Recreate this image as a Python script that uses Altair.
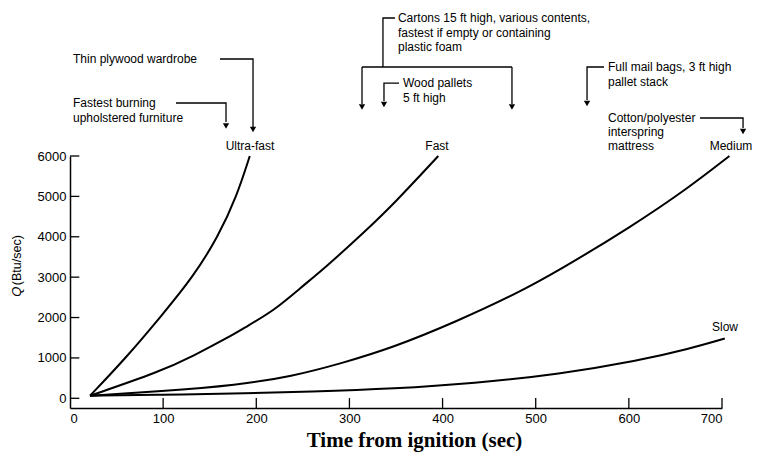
import altair as alt
import pandas as pd

# ---------------- data ----------------
ultra_t = [21.5, 60, 96.6, 132, 159, 179, 193]
ultra_q = [64, 1000, 2000, 3000, 4000, 5000, 6000]

fast_t = [21.5, 96.6, 132.4, 171.8, 187.9, 220, 246.9, 273.8, 316.7, 348.9, 395.4]
fast_q = [64, 660, 1050, 1530, 1755, 2190, 2725, 3230, 4130, 4845, 6000]

medium_t = [21.5, 97, 180, 238, 292, 346, 415, 480, 523, 603, 664, 708]
medium_q = [64, 170, 330, 540, 870, 1250, 1900, 2600, 3140, 4255, 5210, 6000]

slow_t = [21.5, 100, 172, 260, 349, 433, 526, 610, 664, 703]
slow_q = [64, 90, 115, 165, 240, 370, 600, 930, 1220, 1480]

x_ticks = [0, 100, 200, 300, 400, 500, 600, 700]
y_ticks = [0, 1000, 2000, 3000, 4000, 5000, 6000]

curve_labels = ["Ultra-fast", "Fast", "Medium", "Slow"]
curve_label_t = [193.3, 394.0, 709.7, 703.2]
curve_label_q = [6247, 6247, 6247, 1765]

note_texts = ["Thin plywood wardrobe", "Fastest burning", "upholstered furniture",
              "Cartons 15 ft high, various contents,", "fastest if empty or containing",
              "plastic foam", "Wood pallets", "5 ft high", "Full mail bags, 3 ft high",
              "pallet stack", "Cotton/polyester", "interspring", "mattress"]
note_t = [3.2, 3.2, 3.2, 352.1, 352.1, 352.1, 357.5, 357.5, 577.6, 577.6, 577.6, 577.6, 577.6]
note_q = [8402, 7312, 6941, 9417, 9045, 8699, 7807, 7436, 8204, 7832, 6941, 6594, 6247]

conn_id = ["A"] * 3 + ["B"] * 3 + ["C"] * 3 + ["C2"] * 2 + ["C3"] * 2 + ["C4"] * 2 + ["D"] * 3 + ["E"] * 3 + ["F"] * 3
conn_t = [161.0, 196.5, 196.5, 113.8, 167.5, 167.5, 348.9, 336.0, 336.0, 313.5, 474.5,
          313.5, 313.5, 474.5, 474.5, 353.2, 337.1, 337.1, 573.3, 555.1, 555.1, 676.4, 722.6, 722.6]
conn_q = [8402, 8402, 6718, 7312, 7312, 6842, 9417, 9417, 8204, 8204, 8204,
          8204, 7287, 8204, 7287, 7807, 7807, 7362, 8204, 8204, 7386, 6941, 6941, 6693]

arrow_t = [196.5, 167.5, 313.5, 474.5, 337.1, 555.1, 722.6]
arrow_q = [6656, 6743, 7213, 7213, 7275, 7300, 6606]

ytitle_parts = ["Q", "(Btu/sec)"]
ytitle_t = [-56.9, -56.9]
ytitle_q = [2640, 3420]

Y_MIN, Y_MAX = -240, 6000

# ---------------- tables ----------------
rows = []
for name, ts, qs in [("Ultra-fast", ultra_t, ultra_q), ("Fast", fast_t, fast_q),
                     ("Medium", medium_t, medium_q), ("Slow", slow_t, slow_q)]:
    for i, (t, q) in enumerate(zip(ts, qs)):
        rows.append({"series": name, "t": t, "Q": q, "i": i})
curves_df = pd.DataFrame(rows)

conn_df = pd.DataFrame({"id": conn_id, "t": conn_t, "Q": conn_q, "k": list(range(len(conn_id)))})
notes_df = pd.DataFrame({"text": note_texts, "t": note_t, "Q": note_q})
labels_df = pd.DataFrame({"text": curve_labels, "t": curve_label_t, "Q": curve_label_q})
arrows_df = pd.DataFrame({"t": arrow_t, "Q": arrow_q})
xt_df = pd.DataFrame({"t": x_ticks[1:]})
yt_df = pd.DataFrame({"Q": y_ticks})
ytitle_df = pd.DataFrame({"text": ytitle_parts, "t": ytitle_t, "Q": ytitle_q,
                          "style": ["italic", "normal"]})

xs = alt.Scale(domain=[0, 700], nice=False, zero=False)
ys = alt.Scale(domain=[Y_MIN, Y_MAX], nice=False, zero=False)

FONT = "Liberation Sans"

curves = alt.Chart(curves_df).mark_line(
    color="black", strokeWidth=2, interpolate="basis", clip=False
).encode(
    x=alt.X("t:Q", scale=xs, axis=alt.Axis(
        values=x_ticks, format="d", ticks=False, grid=False, domainColor="black", domainWidth=1.5,
        labelFont=FONT, labelFontSize=13, labelColor="black", labelPadding=4,
        title="Time from ignition (sec)", titleFont="Liberation Serif", titleFontSize=21,
        titleFontWeight="bold", titleColor="black", titleX=344, titleY=38,
        titleAlign="center", titleBaseline="alphabetic")),
    y=alt.Y("Q:Q", scale=ys, axis=alt.Axis(
        values=y_ticks, format="d", ticks=False, grid=False, domainColor="black", domainWidth=1.5,
        labelFont=FONT, labelFontSize=13, labelColor="black", labelPadding=4, title=None)),
    detail="series:N",
    order="i:Q",
)

xticks = alt.Chart(xt_df).mark_rule(color="black", strokeWidth=1.3).encode(
    x=alt.X("t:Q", scale=xs), y=alt.datum(Y_MIN), y2=alt.datum(Y_MIN + 245))
yticks = alt.Chart(yt_df).mark_rule(color="black", strokeWidth=1.3).encode(
    y=alt.Y("Q:Q", scale=ys), x=alt.datum(0), x2=alt.datum(10))

notes = alt.Chart(notes_df).mark_text(
    align="left", baseline="middle", font=FONT, fontSize=12, color="black", clip=False
).encode(x=alt.X("t:Q", scale=xs), y=alt.Y("Q:Q", scale=ys), text="text:N")

labels = alt.Chart(labels_df).mark_text(
    align="center", baseline="middle", font=FONT, fontSize=12, color="black", clip=False
).encode(x=alt.X("t:Q", scale=xs), y=alt.Y("Q:Q", scale=ys), text="text:N")

conns = alt.Chart(conn_df).mark_line(color="black", strokeWidth=1.3, clip=False).encode(
    x=alt.X("t:Q", scale=xs), y=alt.Y("Q:Q", scale=ys), detail="id:N", order="k:Q")

arrows = alt.Chart(arrows_df).mark_point(
    shape="triangle-down", filled=True, color="black", size=40, opacity=1, clip=False
).encode(x=alt.X("t:Q", scale=xs), y=alt.Y("Q:Q", scale=ys))

ytitle_q_mark = alt.Chart(ytitle_df[ytitle_df["style"] == "italic"]).mark_text(
    angle=270, align="center", baseline="middle", font=FONT, fontSize=13,
    fontStyle="italic", color="black", clip=False
).encode(x=alt.X("t:Q", scale=xs), y=alt.Y("Q:Q", scale=ys), text="text:N")
ytitle_rest = alt.Chart(ytitle_df[ytitle_df["style"] == "normal"]).mark_text(
    angle=270, align="center", baseline="middle", font=FONT, fontSize=12.5,
    color="black", clip=False
).encode(x=alt.X("t:Q", scale=xs), y=alt.Y("Q:Q", scale=ys), text="text:N")

chart = alt.layer(
    curves, xticks, yticks, conns, arrows, notes, labels, ytitle_q_mark, ytitle_rest
).properties(
    width=652, height=252,
    padding={"left": 70, "top": 156, "right": 38, "bottom": 48},
    autosize=alt.AutoSizeParams(type="none"),
    background="white",
).configure_view(stroke=None)

chart.save("out.html", embed_options={"renderer": "svg", "actions": False})
